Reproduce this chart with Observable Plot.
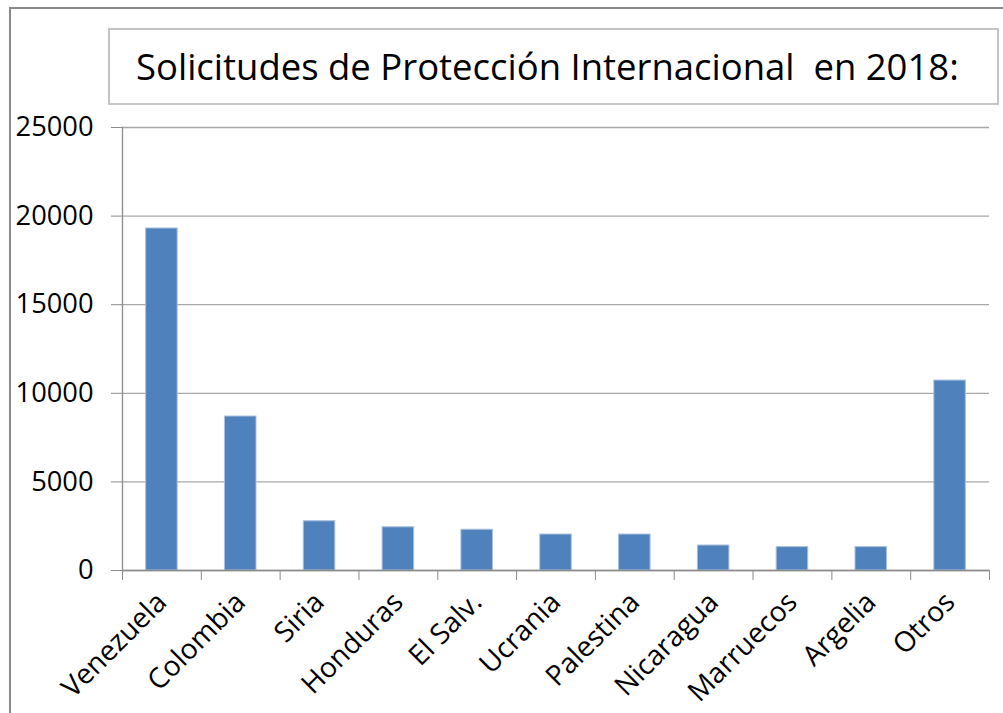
<!DOCTYPE html>
<html><head><meta charset="utf-8">
<script src="https://cdn.jsdelivr.net/npm/d3@7"></script>
<script src="https://cdn.jsdelivr.net/npm/@observablehq/plot@0.6"></script>
<style>
html,body{margin:0;padding:0;background:#fff;overflow:hidden;}
#wrap{position:relative;width:1003px;height:713px;overflow:hidden;background:#fff;}
#frame{position:absolute;left:9px;top:7px;width:1200px;height:900px;border:2.5px solid #8a8a8a;box-sizing:border-box;}
#title{position:absolute;left:108px;top:28px;width:891px;height:77px;border:2px solid #c4c4c4;box-sizing:border-box;white-space:pre;color:#000;line-height:73px;padding-left:26px;}
#chart{position:absolute;left:0;top:0;}
</style></head><body>
<div id="wrap"><div id="frame"></div><div id="chart"></div><div id="title"></div></div>
<script>
const categories = ["Venezuela","Colombia","Siria","Honduras","El Salv.","Ucrania","Palestina","Nicaragua","Marruecos","Argelia","Otros"];
const values = [19300, 8690, 2780, 2440, 2300, 2030, 2030, 1410, 1320, 1320, 10720];
const yTicks = [0, 5000, 10000, 15000, 20000, 25000];
const titleText = "Solicitudes de Protección Internacional  en 2018:";

const FONT = '"Open Sans", "Noto Sans", sans-serif';
const ctx = document.createElement("canvas").getContext("2d");
function fit(text, target) { ctx.font = `100px ${FONT}`; return 100 * target / ctx.measureText(text).width; }
const titleSize = fit(titleText, 823);
const tickFont = fit("25000", 78);

const titleEl = document.getElementById("title");
titleEl.textContent = titleText;
titleEl.style.fontFamily = FONT;
titleEl.style.fontSize = titleSize + "px";

const W = 1003, H = 713, plotLeft = 122, plotRight = 989, plotTop = 127, plotBottom = 570;
const step = (plotRight - plotLeft) / categories.length;
const data = categories.map((c, i) => ({c, v: values[i]}));
const axisColor = "#8c8c8c";

const chart = Plot.plot({
  width: W, height: H,
  marginLeft: plotLeft, marginRight: W - plotRight, marginTop: plotTop, marginBottom: H - plotBottom,
  style: {fontFamily: FONT, fontSize: tickFont + "px", color: "#000", background: "transparent"},
  x: {domain: categories, paddingInner: 0.6, paddingOuter: 0.3, round: false, label: null},
  y: {domain: [0, 25000], label: null},
  marks: [
    Plot.gridY(yTicks, {stroke: "#a8a8a8", strokeOpacity: 1, strokeWidth: 1.3}),
    Plot.barY(data, {x: "c", y: "v", fill: "#4f81bd", stroke: "#a9c0de", strokeWidth: 1}),
    Plot.axisY(yTicks, {tickSize: 11, tickPadding: 18, tickFormat: d => String(d), stroke: axisColor, fill: "#000", fontSize: tickFont, label: null}),
    Plot.ruleY([0], {stroke: axisColor, strokeWidth: 1.3}),
    Plot.frame({anchor: "left", stroke: axisColor, strokeWidth: 1.3}),
    Plot.axisX(categories, {tickSize: 10, tickFormat: null, dx: -step / 2, stroke: axisColor, label: null}),
    Plot.axisX([categories[categories.length - 1]], {tickSize: 10, tickFormat: null, dx: step / 2, stroke: axisColor, label: null}),
    Plot.axisX(categories, {tickSize: 0, tickRotate: -45, tickPadding: 27, dx: 0, fontSize: tickFont * 1.03, fill: "#000", label: null})
  ]
});
document.getElementById("chart").appendChild(chart);
</script>
</body></html>
